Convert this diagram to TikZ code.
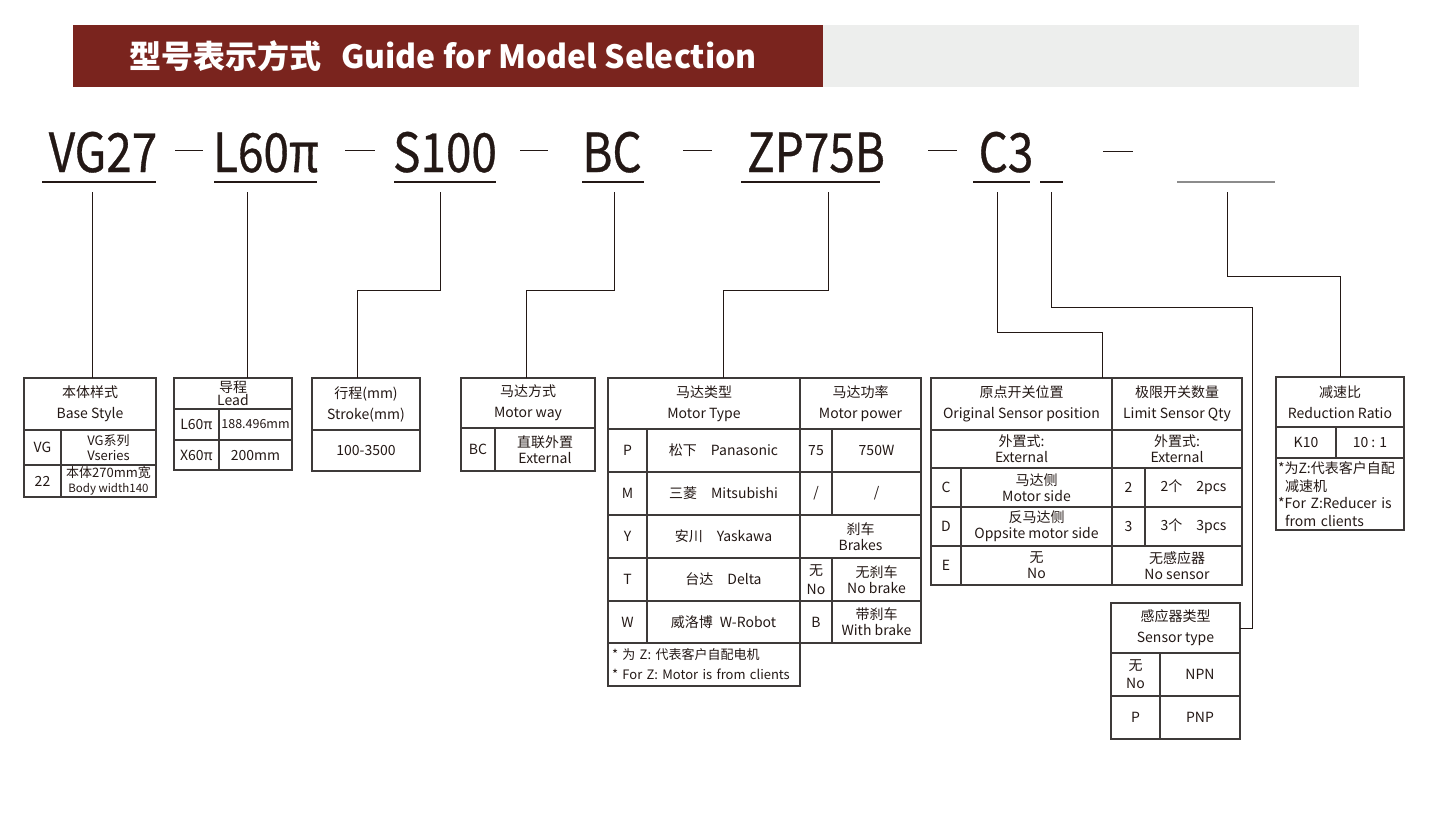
\documentclass[tikz,border=0pt]{standalone}
\usepackage{fontspec}
\setmainfont{Noto Sans CJK SC}
\newfontfamily\codefont[FakeStretch=0.85, FakeBold=0.6]{Noto Sans CJK SC}
\newfontfamily\titlefont{Noto Sans CJK SC}
\usepackage{tikz}
\usetikzlibrary{positioning, calc}
\definecolor{titlered}{RGB}{122,36,30}
\definecolor{bargray}{RGB}{237,238,237}
\definecolor{inkdark}{RGB}{35,24,21}
\definecolor{tabline}{RGB}{62,58,57}
\definecolor{ulgray}{RGB}{140,140,140}
\tikzstyle{cell} = [rectangle, draw=tabline, line width=1.2pt, anchor=north west, inner sep=0pt, outer sep=0pt, align=center, text=inkdark, font=\fontsize{14}{17}\selectfont]
\tikzstyle{hdcell} = [cell, font=\fontsize{14}{21}\selectfont]
\tikzstyle{twoline} = [cell, font=\fontsize{14}{16}\selectfont]
\tikzstyle{code} = [anchor=base, text=inkdark, font=\codefont\fontsize{54}{54}\selectfont]
\tikzstyle{conn} = [draw=inkdark, line width=1pt]
\tikzstyle{uline} = [draw=inkdark, line width=1.2pt]

\begin{document}
\begin{tikzpicture}[x=1pt, y=-1pt]
\useasboundingbox (0,0) rectangle (1432,815);

% Title bar
\fill[titlered] (73,25) rectangle (823,87);
\fill[bargray] (823,25) rectangle (1359,87);
\node[text=white, font=\titlefont\bfseries\fontsize{32}{32}\selectfont] (title) at (443,56) {型号表示方式\hspace{20pt}Guide for Model Selection};

% Model code
\node[code] (cVG) at (103,172) {VG27};
\node[code] (cL) at (266,172) {L60π};
\node[code] (cS) at (445,172) {S100};
\node[code] (cBC) at (612,172) {BC};
\node[code] (cZP) at (816,172) {ZP75B};
\node[code] (cC3) at (1006,172) {C3};

% dashes between the parts
\draw[conn] (175,150) -- (203,150);
\draw[conn] (345,150) -- (375,150);
\draw[conn] (520,150) -- (548,150);
\draw[conn] (683,150) -- (712,150);
\draw[conn] (928,150) -- (957,150);
\draw[conn] (1103,151) -- (1133,151);

% underlines
\draw[uline] (42,182) -- (156,182);
\draw[uline] (214,182) -- (317,182);
\draw[uline] (394,182) -- (496,182);
\draw[uline] (582,182) -- (644,182);
\draw[uline] (741,182) -- (880,182);
\draw[uline] (973,182) -- (1030,182);
\draw[uline] (1040,182) -- (1063,182);
\draw[draw=ulgray, line width=2pt] (1177,182) -- (1275,182);

% Base style
\node[hdcell, minimum width=132pt, minimum height=52pt] (tBaseHd) at (24,378) {本体样式\\Base Style};
\node[cell, minimum width=37pt, minimum height=35pt] (tBaseA1) at (24,430) {VG};
\node[cell, minimum width=95pt, minimum height=35pt, font=\fontsize{13}{15}\selectfont] (tBaseB1) at (61,430) {VG系列\\Vseries};
\node[cell, minimum width=37pt, minimum height=32pt] (tBaseA2) at (24,465) {22};
\node[cell, minimum width=95pt, minimum height=32pt, font=\fontsize{13}{15}\selectfont] (tBaseB2) at (61,465) {本体270mm宽\\{\fontsize{11.5}{13}\selectfont Body width140}};

% Lead
\node[cell, minimum width=118pt, minimum height=31pt, font=\fontsize{14}{13}\selectfont] (tLeadHd) at (174,378) {导程\\Lead};
\node[cell, minimum width=45pt, minimum height=31pt] (tLeadA1) at (174,409) {L60π};
\node[cell, minimum width=73pt, minimum height=31pt, font=\fontsize{12.5}{15}\selectfont] (tLeadB1) at (219,409) {188.496mm};
\node[cell, minimum width=45pt, minimum height=30pt] (tLeadA2) at (174,440) {X60π};
\node[cell, minimum width=73pt, minimum height=30pt] (tLeadB2) at (219,440) {200mm};

% Stroke
\node[hdcell, minimum width=108pt, minimum height=52pt] (tStrHd) at (312,378) {行程(mm)\\Stroke(mm)};
\node[cell, minimum width=108pt, minimum height=41pt] (tStrA1) at (312,430) {100-3500};

% Motor way
\node[hdcell, minimum width=134pt, minimum height=50pt] (tWayHd) at (461,378) {马达方式\\Motor way};
\node[cell, minimum width=34pt, minimum height=43pt] (tWayA1) at (461,428) {BC};
\node[twoline, minimum width=100pt, minimum height=43pt] (tWayB1) at (495,428) {直联外置\\External};

% Motor type
\node[hdcell, minimum width=192pt, minimum height=51pt] (tMotHd) at (608,378) {马达类型\\Motor Type};
\node[cell, minimum width=39pt, minimum height=43pt] (tMotA1) at (608,429) {P};
\node[cell, minimum width=153pt, minimum height=43pt] (tMotB1) at (647,429) {松下\quad Panasonic};
\node[cell, minimum width=39pt, minimum height=43pt] (tMotA2) at (608,472) {M};
\node[cell, minimum width=153pt, minimum height=43pt] (tMotB2) at (647,472) {三菱\quad Mitsubishi};
\node[cell, minimum width=39pt, minimum height=43pt] (tMotA3) at (608,515) {Y};
\node[cell, minimum width=153pt, minimum height=43pt] (tMotB3) at (647,515) {安川\quad Yaskawa};
\node[cell, minimum width=39pt, minimum height=43pt] (tMotA4) at (608,558) {T};
\node[cell, minimum width=153pt, minimum height=43pt] (tMotB4) at (647,558) {台达\quad Delta};
\node[cell, minimum width=39pt, minimum height=42pt] (tMotA5) at (608,601) {W};
\node[cell, minimum width=153pt, minimum height=42pt] (tMotB5) at (647,601) {威洛博\enspace W-Robot};
\node[cell, minimum width=192pt, minimum height=43pt, text width=188pt, align=left, font=\fontsize{13}{20}\selectfont] (tMotNote) at (608,643) {\hspace*{2pt}* 为 Z: 代表客户自配电机\\\hspace*{2pt}* For Z: Motor is from clients};

% Motor power
\node[hdcell, minimum width=121pt, minimum height=51pt] (tPowHd) at (800,378) {马达功率\\Motor power};
\node[cell, minimum width=32pt, minimum height=43pt] (tPowA1) at (800,429) {75};
\node[cell, minimum width=89pt, minimum height=43pt] (tPowB1) at (832,429) {750W};
\node[cell, minimum width=32pt, minimum height=43pt] (tPowA2) at (800,472) {/};
\node[cell, minimum width=89pt, minimum height=43pt] (tPowB2) at (832,472) {/};
\node[twoline, minimum width=121pt, minimum height=43pt] (tBrkHd) at (800,515) {刹车\\Brakes};
\node[cell, minimum width=32pt, minimum height=43pt, font=\fontsize{14}{19}\selectfont] (tPowA4) at (800,558) {无\\No};
\node[twoline, minimum width=89pt, minimum height=43pt] (tPowB4) at (832,558) {无刹车\\No brake};
\node[cell, minimum width=32pt, minimum height=42pt] (tPowA5) at (800,601) {B};
\node[twoline, minimum width=89pt, minimum height=42pt] (tPowB5) at (832,601) {带刹车\\With brake};

% Original sensor / limit sensor
\node[hdcell, minimum width=181pt, minimum height=52pt] (tOrgHd) at (931,378) {原点开关位置\\Original Sensor position};
\node[hdcell, minimum width=130pt, minimum height=52pt] (tLimHd) at (1112,378) {极限开关数量\\Limit Sensor Qty};
\node[twoline, minimum width=181pt, minimum height=38pt] (tOrgExt) at (931,430) {外置式:\\External};
\node[twoline, minimum width=130pt, minimum height=38pt] (tLimExt) at (1112,430) {外置式:\\External};
\node[cell, minimum width=30pt, minimum height=39pt] (tOrgA1) at (931,468) {C};
\node[twoline, minimum width=151pt, minimum height=39pt] (tOrgB1) at (961,468) {马达侧\\Motor side};
\node[cell, minimum width=33pt, minimum height=39pt] (tLimA1) at (1112,468) {2};
\node[cell, minimum width=97pt, minimum height=39pt] (tLimB1) at (1145,468) {2个\quad 2pcs};
\node[cell, minimum width=30pt, minimum height=39pt] (tOrgA2) at (931,507) {D};
\node[twoline, minimum width=151pt, minimum height=39pt] (tOrgB2) at (961,507) {反马达侧\\Oppsite motor side};
\node[cell, minimum width=33pt, minimum height=39pt] (tLimA2) at (1112,507) {3};
\node[cell, minimum width=97pt, minimum height=39pt] (tLimB2) at (1145,507) {3个\quad 3pcs};
\node[cell, minimum width=30pt, minimum height=39pt] (tOrgA3) at (931,546) {E};
\node[twoline, minimum width=151pt, minimum height=39pt] (tOrgB3) at (961,546) {无\\No};
\node[twoline, minimum width=130pt, minimum height=39pt] (tLimB3) at (1112,546) {无感应器\\No sensor};

% Sensor type
\node[hdcell, minimum width=129pt, minimum height=50pt] (tSenHd) at (1111,603) {感应器类型\\Sensor type};
\node[cell, minimum width=49pt, minimum height=43pt, font=\fontsize{14}{18}\selectfont] (tSenA1) at (1111,653) {无\\No};
\node[cell, minimum width=80pt, minimum height=43pt] (tSenB1) at (1160,653) {NPN};
\node[cell, minimum width=49pt, minimum height=43pt] (tSenA2) at (1111,696) {P};
\node[cell, minimum width=80pt, minimum height=43pt] (tSenB2) at (1160,696) {PNP};

% Reduction ratio
\node[hdcell, minimum width=128pt, minimum height=50pt] (tRedHd) at (1276,377) {减速比\\Reduction Ratio};
\node[cell, minimum width=60pt, minimum height=31pt] (tRedA1) at (1276,427) {K10};
\node[cell, minimum width=68pt, minimum height=31pt] (tRedB1) at (1336,427) {10 : 1};
\node[cell, minimum width=128pt, minimum height=72pt, text width=124pt, align=left, font=\fontsize{14}{17.5}\selectfont] (tRedNote) at (1276,458) {*为Z:代表客户自配\\\hspace*{7pt}减速机\\{*}For Z:Reducer is\\\hspace*{7pt}from clients};

% Leaders from the code to the tables
\coordinate (pVG) at (92,192);
\coordinate (pL) at (247,192);
\coordinate (pS) at (440,192);
\coordinate (pBC) at (614,192);
\coordinate (pZP) at (828,192);
\coordinate (pC3) at (997,192);
\coordinate (pT) at (1051,192);
\coordinate (pR) at (1227,192);

\draw[conn] (pVG) -- (pVG |- tBaseHd.north);
\draw[conn] (pL) -- (pL |- tLeadHd.north);
\draw[conn] (pS) -- ++(0,98) -| ([xshift=-9pt]tStrHd.north);
\draw[conn] (pBC) -- ++(0,98) -| ([xshift=-2pt]tWayHd.north);
\draw[conn] (pZP) -- ++(0,98) -| ([xshift=19pt]tMotHd.north);
\draw[conn] (pC3) -- ++(0,140) -| ([xshift=-10pt]tOrgHd.north east);
\draw[conn] (pT) -- ++(0,115) -| ([xshift=12pt]tSenHd.east) -- (tSenHd.east);
\draw[conn] (pR) -- ++(0,84) -| (tRedHd.north);

\end{tikzpicture}
\end{document}
